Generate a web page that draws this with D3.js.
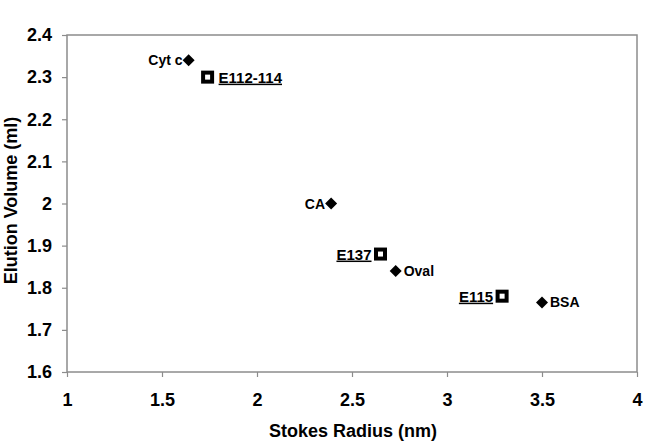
<!DOCTYPE html>
<html>
<head>
<meta charset="utf-8">
<script src="https://cdn.jsdelivr.net/npm/d3@7"></script>
<style>
  html, body { margin: 0; padding: 0; background: #fff; }
  svg { display: block; font-family: "Liberation Sans", Arial, sans-serif; }
</style>
</head>
<body>
<div id="diagram"></div>
<script>
// data
const standardNames = ['Cyt c', 'CA', 'Oval', 'BSA'];
const standardRadius = [1.64, 2.39, 2.73, 3.5];
const standardVolume = [2.34, 2.0, 1.84, 1.765];

const mutantNames = ['E112-114', 'E137', 'E115'];
const mutantRadius = [1.74, 2.65, 3.29];
const mutantVolume = [2.3, 1.88, 1.78];

const xTicks = [1, 1.5, 2, 2.5, 3, 3.5, 4];
const yTicks = [1.6, 1.7, 1.8, 1.9, 2, 2.1, 2.2, 2.3, 2.4];

!(function () {
  'use strict';
  // - - - - - - - - - -
  let
    canvas = undefined,
    svg = undefined,
    x = undefined,
    y = undefined,
    labelLeft = { 'Cyt c': true, 'CA': true, 'E137': true, 'E115': true },

    setCanvas = undefined,
    setScales = undefined,
    setAxes = undefined,
    setPoints = undefined;

  canvas = {
    width: 669,
    height: 442,
    padding: { top: 35, right: 32, bottom: 70, left: 67 }
  };

  setCanvas = function (contextSelector) {
    svg = d3.select(contextSelector)
      .append('svg')
      .attr('width', canvas.width)
      .attr('height', canvas.height);
  };

  setScales = function () {
    x = d3.scaleLinear()
      .domain([1, 4])
      .range([canvas.padding.left, canvas.width - canvas.padding.right]);
    y = d3.scaleLinear()
      .domain([1.6, 2.4])
      .range([canvas.height - canvas.padding.bottom, canvas.padding.top]);
  };

  setAxes = function () {
    let bottom = canvas.height - canvas.padding.bottom;

    // plot frame
    svg.append('rect')
      .attr('x', x(1))
      .attr('y', y(2.4))
      .attr('width', x(4) - x(1))
      .attr('height', y(1.6) - y(2.4))
      .attr('fill', 'none')
      .attr('stroke', '#8c8c8c')
      .attr('stroke-width', 1.5);

    let gx = svg.append('g')
      .attr('transform', 'translate(0,' + bottom + ')')
      .call(d3.axisBottom(x).tickValues(xTicks).tickSize(5).tickSizeOuter(0).tickFormat(d3.format('')));
    gx.select('.domain').remove();
    gx.selectAll('.tick line').attr('stroke', '#8c8c8c').attr('stroke-width', 1.2);
    gx.selectAll('.tick text')
      .attr('y', 21)
      .attr('fill', '#000')
      .style('font-size', '18px')
      .style('font-weight', 'bold');

    let gy = svg.append('g')
      .attr('transform', 'translate(' + x(1) + ',0)')
      .call(d3.axisLeft(y).tickValues(yTicks).tickSize(5).tickSizeOuter(0).tickFormat(d3.format('')));
    gy.select('.domain').remove();
    gy.selectAll('.tick line').attr('stroke', '#8c8c8c').attr('stroke-width', 1.2);
    gy.selectAll('.tick text')
      .attr('x', -15)
      .attr('fill', '#000')
      .style('font-size', '18px')
      .style('font-weight', 'bold');

    svg.append('text')
      .attr('x', (x(1) + x(4)) / 2 + 1)
      .attr('y', 437)
      .attr('text-anchor', 'middle')
      .style('font-size', '18px')
      .style('font-weight', 'bold')
      .text('Stokes Radius (nm)');

    svg.append('text')
      .attr('transform', 'translate(17,' + ((y(1.6) + y(2.4)) / 2 - 3) + ') rotate(-90)')
      .attr('text-anchor', 'middle')
      .style('font-size', '18px')
      .style('font-weight', 'bold')
      .text('Elution Volume (ml)');
  };

  setPoints = function () {
    let standards = standardNames.map(function (n, i) {
      return { name: n, r: standardRadius[i], v: standardVolume[i] };
    });
    let mutants = mutantNames.map(function (n, i) {
      return { name: n, r: mutantRadius[i], v: mutantVolume[i] };
    });

    // diamonds
    svg.selectAll()
      .data(standards)
      .enter()
      .append('path')
      .attr('d', 'M0,-6L6,0L0,6L-6,0Z')
      .attr('transform', function (d) { return 'translate(' + x(d.r) + ',' + y(d.v) + ')'; })
      .attr('fill', '#000');

    svg.selectAll()
      .data(standards)
      .enter()
      .append('text')
      .attr('x', function (d) { return x(d.r) + (labelLeft[d.name] ? -6 : 8); })
      .attr('y', function (d) { return y(d.v) + 5; })
      .attr('text-anchor', function (d) { return labelLeft[d.name] ? 'end' : 'start'; })
      .style('font-size', '14px')
      .style('font-weight', 'bold')
      .text(function (d) { return d.name; });

    // squares with white centre
    svg.selectAll()
      .data(mutants)
      .enter()
      .append('rect')
      .attr('x', function (d) { return x(d.r) - 6.5; })
      .attr('y', function (d) { return y(d.v) - 6.5; })
      .attr('width', 13)
      .attr('height', 13)
      .attr('fill', '#000');

    svg.selectAll()
      .data(mutants)
      .enter()
      .append('rect')
      .attr('x', function (d) { return x(d.r) - 2.5; })
      .attr('y', function (d) { return y(d.v) - 2.5; })
      .attr('width', 5)
      .attr('height', 5)
      .attr('fill', '#fff');

    svg.selectAll()
      .data(mutants)
      .enter()
      .append('text')
      .attr('x', function (d) { return x(d.r) + (labelLeft[d.name] ? -9 : 11); })
      .attr('y', function (d) { return y(d.v) + 5.5; })
      .attr('text-anchor', function (d) { return labelLeft[d.name] ? 'end' : 'start'; })
      .style('font-size', '15px')
      .style('font-weight', 'bold')
      .style('text-decoration', 'underline')
      .text(function (d) { return d.name; });
  };

  // control
  setCanvas('#diagram');
  setScales();
  setAxes();
  setPoints();
  // - - - - - - - - - -
}());
</script>
</body>
</html>
